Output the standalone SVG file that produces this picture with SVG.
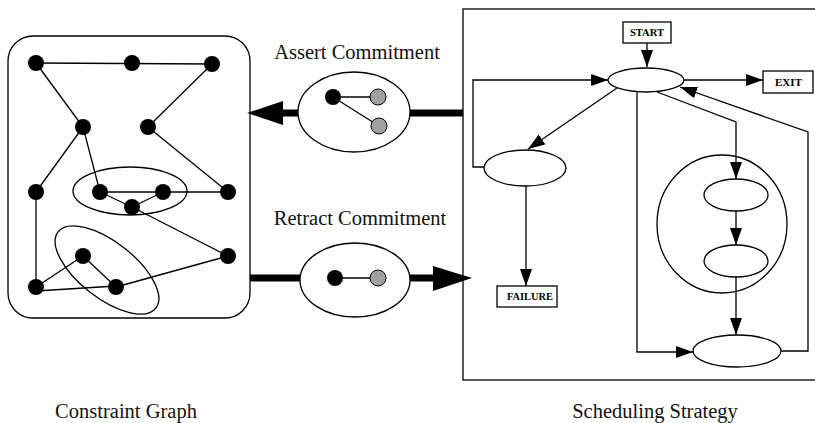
<svg xmlns="http://www.w3.org/2000/svg" width="815" height="423" viewBox="0 0 815 423">
<defs>
<marker id="ah" markerUnits="userSpaceOnUse" markerWidth="17" markerHeight="12" refX="17" refY="6" orient="auto">
<path d="M0,0 L17,6 L0,12 z" fill="#000"/>
</marker>
<style>
.ln{stroke:#000;stroke-width:1.3;fill:none}
.fl{stroke:#000;stroke-width:1.3;fill:none;marker-end:url(#ah)}
.nd{fill:#000}
.gr{fill:#a0a0a0;stroke:#000;stroke-width:1}
.sh{fill:#fff;stroke:#000;stroke-width:1.3}
.lbl{font-family:"Liberation Serif",serif;font-size:20.5px;fill:#111}
.sm{font-family:"Liberation Serif",serif;font-size:9.5px;font-weight:bold;fill:#000}
.thick{stroke:#000;stroke-width:7;fill:none}
</style>
</defs>
<rect width="815" height="423" fill="#fff"/>

<g id="constraint-graph">
<rect x="8" y="36" width="242" height="282" rx="25" class="ln"/>
<g class="ln">
<line x1="36" y1="63" x2="212" y2="64"/>
<line x1="36" y1="63" x2="83" y2="127"/>
<line x1="212" y1="64" x2="148" y2="127"/>
<line x1="83" y1="127" x2="36" y2="192"/>
<line x1="83" y1="127" x2="100" y2="192"/>
<line x1="148" y1="127" x2="228" y2="192"/>
<line x1="100" y1="192" x2="228" y2="192"/>
<line x1="100" y1="192" x2="132" y2="207"/>
<line x1="132" y1="207" x2="163" y2="192"/>
<line x1="132" y1="207" x2="228" y2="256"/>
<line x1="36" y1="192" x2="36" y2="287"/>
<line x1="36" y1="287" x2="83" y2="256"/>
<line x1="83" y1="256" x2="116" y2="287"/>
<line x1="36" y1="291" x2="116" y2="286"/>
<line x1="116" y1="287" x2="228" y2="256"/>
<ellipse cx="130" cy="191" rx="57" ry="24"/>
<ellipse cx="107" cy="270" rx="62" ry="28" transform="rotate(38 107 270)"/>
</g>
<g class="nd">
<circle cx="36" cy="63" r="8"/>
<circle cx="132" cy="63" r="8"/>
<circle cx="212" cy="64" r="8"/>
<circle cx="83" cy="127" r="8"/>
<circle cx="148" cy="127" r="8"/>
<circle cx="36" cy="192" r="8"/>
<circle cx="100" cy="192" r="8"/>
<circle cx="163" cy="192" r="8"/>
<circle cx="228" cy="192" r="8"/>
<circle cx="132" cy="207" r="8"/>
<circle cx="228" cy="256" r="8"/>
<circle cx="83" cy="256" r="8"/>
<circle cx="36" cy="287" r="8"/>
<circle cx="116" cy="287" r="8"/>
</g>
</g>

<g id="assert-commitment">
<text class="lbl" x="357" y="59" text-anchor="middle">Assert Commitment</text>
<ellipse cx="354" cy="112" rx="56" ry="40" class="sh"/>
<line x1="333" y1="97" x2="378" y2="97" class="ln"/>
<line x1="333" y1="97" x2="379" y2="126" class="ln"/>
<circle cx="333" cy="97" r="8" class="nd"/>
<circle cx="378" cy="97" r="8" class="gr"/>
<circle cx="379" cy="126" r="8" class="gr"/>
</g>

<g id="retract-commitment">
<text class="lbl" x="360" y="225" text-anchor="middle">Retract Commitment</text>
<ellipse cx="355" cy="280" rx="55" ry="37" class="sh"/>
<line x1="335" y1="278" x2="378" y2="278" class="ln"/>
<circle cx="335" cy="278" r="8" class="nd"/>
<circle cx="378" cy="278" r="8" class="gr"/>
</g>

<g id="scheduling-strategy">
<rect x="463" y="9" width="360" height="371" class="ln"/>
</g>
<g id="start"><rect x="623" y="22" width="48" height="21" class="sh"/><text class="sm" x="630" y="36" textLength="34" lengthAdjust="spacingAndGlyphs">START</text></g>
<g id="exit"><rect x="763" y="71" width="50" height="22" class="sh"/><text class="sm" x="775" y="85.5" textLength="27" lengthAdjust="spacingAndGlyphs">EXIT</text></g>
<g id="failure"><rect x="497" y="286" width="60" height="21" class="sh"/><text class="sm" x="507" y="300" textLength="46" lengthAdjust="spacingAndGlyphs">FAILURE</text></g>
<g id="state-main"><ellipse cx="646" cy="80" rx="38" ry="12" class="sh"/></g>
<g id="state-left"><ellipse cx="525" cy="168" rx="41" ry="18" class="sh"/></g>
<g id="composite"><ellipse cx="722" cy="224" rx="65" ry="69" class="ln"/></g>
<g id="state-inner1"><ellipse cx="736" cy="195" rx="32" ry="16" class="sh"/></g>
<g id="state-inner2"><ellipse cx="736" cy="261" rx="32" ry="16" class="sh"/></g>
<g id="state-bottom"><ellipse cx="737" cy="351" rx="44" ry="16" class="sh"/></g>

<g id="connectors">
<line x1="463" y1="113" x2="410" y2="113" class="thick"/>
<line x1="298" y1="113" x2="282" y2="113" class="thick"/>
<polygon points="247,113 283,101 283,125" fill="#000"/>
<line x1="250" y1="278" x2="300" y2="278" class="thick"/>
<line x1="410" y1="278" x2="434" y2="278" class="thick"/>
<polygon points="472,278 433,266 433,291" fill="#000"/>

<path d="M647,43 L647,67" class="fl"/>
<path d="M684,80 L763,80" class="fl"/>
<path d="M484,167 L473,167 L473,80 L608,80" class="fl"/>
<path d="M617,88 L528,149" class="fl"/>
<path d="M526,186 L526,286" class="fl"/>
<path d="M637,92 L637,352 L693,352" class="fl"/>
<path d="M657,92 L736,122 L736,179" class="fl"/>
<path d="M736,211 L736,245" class="fl"/>
<path d="M736,277 L736,335" class="fl"/>
<path d="M781,351 L808,351 L808,132 L680,87" class="fl"/>
</g>

<text class="lbl" x="126" y="418" text-anchor="middle">Constraint Graph</text>
<text class="lbl" x="655" y="418" text-anchor="middle">Scheduling Strategy</text>
</svg>
